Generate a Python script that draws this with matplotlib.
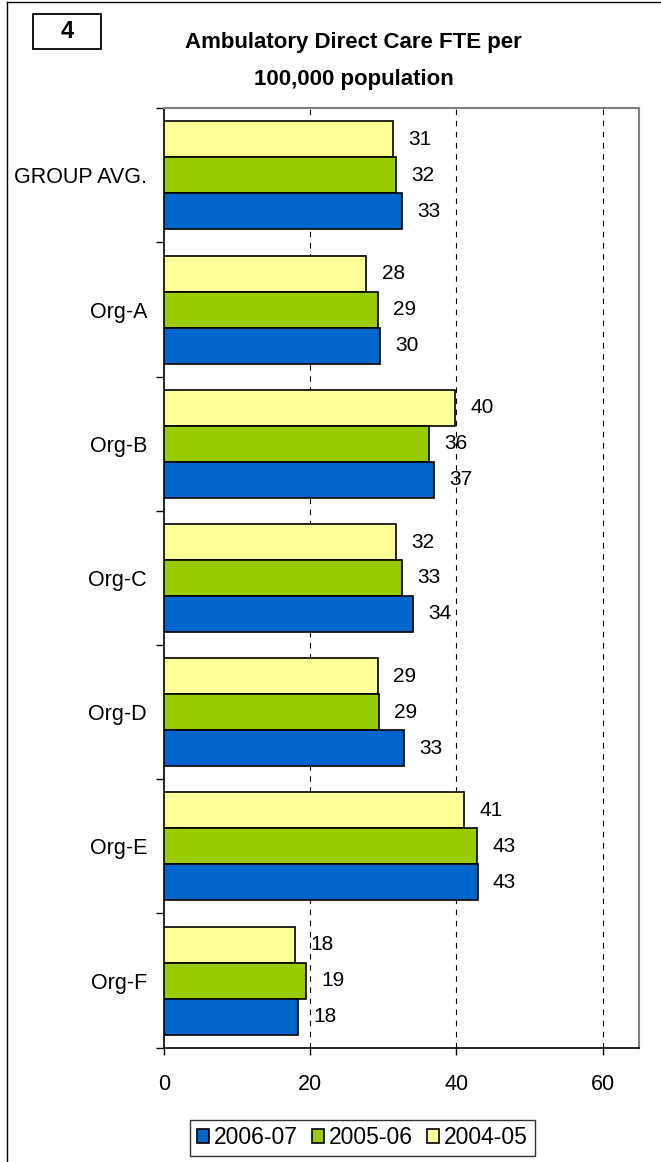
import numpy as np
import matplotlib.pyplot as plt
from matplotlib.lines import Line2D
from matplotlib.patches import Rectangle

plt.rcParams['font.family'] = ['Liberation Sans', 'DejaVu Sans']

# Data (FTE per 100,000 population)
categories = ['GROUP AVG.', 'Org-A', 'Org-B', 'Org-C', 'Org-D', 'Org-E', 'Org-F']
fte_2004_05 = [31.3, 27.7, 39.8, 31.7, 29.3, 41.1, 18.0]
fte_2005_06 = [31.7, 29.3, 36.3, 32.5, 29.4, 42.8, 19.4]
fte_2006_07 = [32.5, 29.5, 37.0, 34.1, 32.9, 42.9, 18.3]
labels_2004_05 = ['31', '28', '40', '32', '29', '41', '18']
labels_2005_06 = ['32', '29', '36', '33', '29', '43', '19']
labels_2006_07 = ['33', '30', '37', '34', '33', '43', '18']
x_ticks = [0, 20, 40, 60]

blue = '#0066CC'
green = '#99CC00'
yellow = '#FFFF99'

fig = plt.figure(figsize=(6.61, 11.62), dpi=100)
ax = fig.add_axes([0.2477, 0.0984, 0.7195, 0.8084])

y = np.arange(len(categories))
h = 0.268
series = [
    (fte_2004_05, labels_2004_05, yellow, -h, '2004-05'),
    (fte_2005_06, labels_2005_06, green, 0.0, '2005-06'),
    (fte_2006_07, labels_2006_07, blue, h, '2006-07'),
]
handles = {}
for vals, labs, col, off, name in series:
    bars = ax.barh(y + off, vals, height=h, color=col, edgecolor='black',
                   linewidth=1.2, zorder=3, label=name)
    handles[name] = bars
    for v, yy, lab in zip(vals, y + off, labs):
        ax.annotate(lab, (v, yy), xytext=(11, 0), textcoords='offset points',
                    ha='left', va='center', fontsize=15, zorder=4)

ax.set_xlim(0, 65)
ax.set_ylim(len(categories) - 0.5, -0.5)

# x axis
ax.set_xticks(x_ticks)
ax.set_xticklabels([str(t) for t in x_ticks], fontsize=15.5)
ax.tick_params(axis='x', direction='out', length=5, width=1, pad=14)
for t in x_ticks[1:]:
    ax.axvline(t, color='black', linewidth=0.8, linestyle=(0, (5, 5)), zorder=1)

# y axis: labels at category centres, tick marks on the boundaries
ax.set_yticks(y)
ax.set_yticklabels(categories, fontsize=15.5)
ax.tick_params(axis='y', which='major', length=0, pad=12)
ax.set_yticks(np.arange(len(categories) + 1) - 0.5, minor=True)
ax.tick_params(axis='y', which='minor', direction='out', length=6, width=1)

for side in ['left', 'bottom']:
    ax.spines[side].set_color('black')
    ax.spines[side].set_linewidth(1.2)
for side in ['top', 'right']:
    ax.spines[side].set_color('#808080')
    ax.spines[side].set_linewidth(1.5)

# Title and the numbered box
fig.text(0.535, 1 - 61 / 1162, 'Ambulatory Direct Care FTE per\n100,000 population',
         ha='center', va='center', fontsize=16, fontweight='bold', linespacing=2.0)
fig.patches.append(Rectangle((33 / 661, 1 - 49 / 1162), 68 / 661, 35 / 1162,
                             transform=fig.transFigure, fill=False,
                             edgecolor='black', linewidth=1.3))
fig.text(67 / 661, 1 - 31 / 1162, '4', ha='center', va='center',
         fontsize=17, fontweight='bold')

# Outer frame (left and top edges visible)
fig.lines.append(Line2D([7 / 661, 7 / 661], [0, 1 - 2 / 1162],
                        transform=fig.transFigure, color='black', linewidth=1))
fig.lines.append(Line2D([7 / 661, 1], [1 - 2 / 1162, 1 - 2 / 1162],
                        transform=fig.transFigure, color='black', linewidth=1))

order = ['2006-07', '2005-06', '2004-05']
leg = fig.legend([handles[k] for k in order], order, loc='center',
                 bbox_to_anchor=(0.548, 1 - 1138 / 1162), ncol=3, fontsize=16.5,
                 frameon=True, fancybox=False, edgecolor='black',
                 handlelength=0.55, handleheight=0.55, handletextpad=0.2,
                 columnspacing=0.6, borderpad=0.3, borderaxespad=0)
leg.get_frame().set_linewidth(1)

fig.savefig('out.png', dpi=100)
